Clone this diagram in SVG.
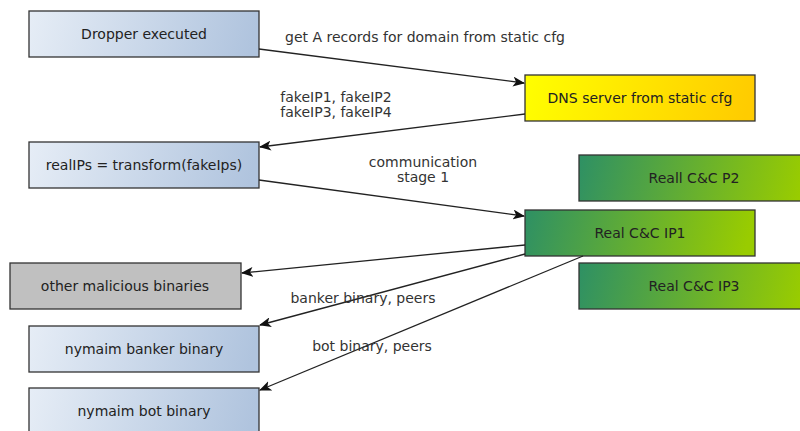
<svg xmlns="http://www.w3.org/2000/svg" width="800" height="431" viewBox="0 0 800 431">
<style>
.box{stroke:#333;stroke-width:1.3}
.blue{fill:url(#gBlue)}
.yellow{fill:url(#gYellow)}
.green{fill:url(#gGreen)}
.gray{fill:#c0c0c0}
text{font-family:"DejaVu Sans",Verdana,sans-serif;font-size:14px;fill:#222;text-anchor:middle}
.lbl{fill:#333}
.edge{stroke:#222;stroke-width:1.3;fill:none;marker-end:url(#arr)}
</style>
<defs>
<linearGradient id="gBlue" x1="0" y1="0" x2="1" y2="0.05"><stop offset="0" stop-color="#e6edf6"/><stop offset="1" stop-color="#b0c4de"/></linearGradient>
<linearGradient id="gYellow" x1="0" y1="0" x2="1" y2="0.05"><stop offset="0" stop-color="#ffff00"/><stop offset="1" stop-color="#ffcc00"/></linearGradient>
<linearGradient id="gGreen" x1="0" y1="0" x2="1" y2="0.05"><stop offset="0" stop-color="#2e9064"/><stop offset="1" stop-color="#99cc00"/></linearGradient>
<marker id="arr" viewBox="0 0 12 10" refX="11" refY="5" markerWidth="12" markerHeight="10" markerUnits="userSpaceOnUse" orient="auto"><path d="M0,0 L12,5 L0,10 L3,5 Z" fill="#111"/></marker>
</defs>
<g id="dropper"><rect class="box blue" x="29" y="11" width="230" height="46"/><text x="144" y="39">Dropper executed</text></g>
<g id="dns"><rect class="box yellow" x="525" y="75" width="230" height="46"/><text x="640" y="103">DNS server from static cfg</text></g>
<g id="realips"><rect class="box blue" x="29" y="142" width="230" height="46"/><text x="144" y="170">realIPs = transform(fakeIps)</text></g>
<g id="cc2"><rect class="box green" x="579" y="155" width="230" height="46"/><text x="694" y="183">Reall C&amp;C P2</text></g>
<g id="cc1"><rect class="box green" x="525" y="210" width="230" height="46"/><text x="640" y="238">Real C&amp;C IP1</text></g>
<g id="cc3"><rect class="box green" x="579" y="263" width="230" height="46"/><text x="694" y="291">Real C&amp;C IP3</text></g>
<g id="other"><rect class="box gray" x="10" y="263" width="231" height="46"/><text x="125" y="291">other malicious binaries</text></g>
<g id="banker"><rect class="box blue" x="29" y="326" width="230" height="46"/><text x="144" y="354">nymaim banker binary</text></g>
<g id="bot"><rect class="box blue" x="29" y="388" width="230" height="46"/><text x="144" y="416">nymaim bot binary</text></g>
<g id="connectors">
<path class="edge" d="M259,49 L524,83"/>
<path class="edge" d="M525,114 L260,147"/>
<path class="edge" d="M259,180 L524,216"/>
<path class="edge" d="M525,245 L242,273"/>
<path class="edge" d="M525,254 L260,325"/>
<path class="edge" d="M583,256 L260,390"/>
<text class="lbl" x="425" y="42">get A records for domain from static cfg</text>
<text class="lbl" x="336" y="102">fakeIP1, fakeIP2</text>
<text class="lbl" x="336" y="117">fakeIP3, fakeIP4</text>
<text class="lbl" x="423" y="167">communication</text>
<text class="lbl" x="423" y="182">stage 1</text>
<text class="lbl" x="363" y="303">banker binary, peers</text>
<text class="lbl" x="372" y="351">bot binary, peers</text>
</g>
</svg>
